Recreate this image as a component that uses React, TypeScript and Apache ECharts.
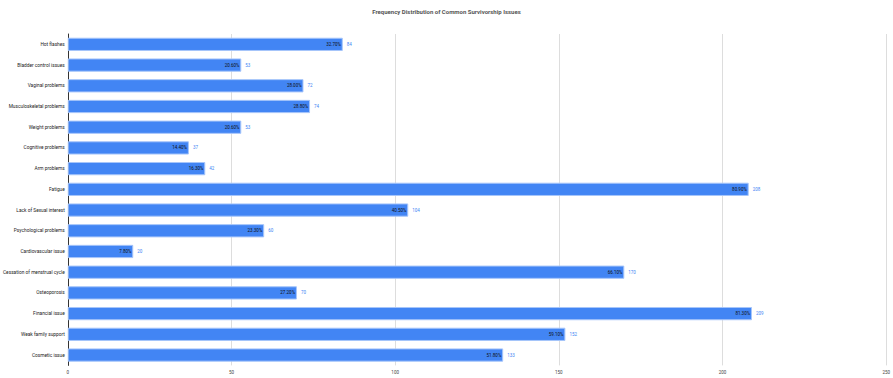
import React, { useEffect, useRef } from "react";
import * as echarts from "echarts";

const categories = [
  "Hot flashes",
  "Bladder control issues",
  "Vaginal problems",
  "Musculoskeletal problems",
  "Weight problems",
  "Cognitive problems",
  "Arm problems",
  "Fatigue",
  "Lack of Sexual interest",
  "Psychological problems",
  "Cardiovascular issue",
  "Cessation of menstrual cycle",
  "Osteoporosis",
  "Financial issue",
  "Weak family support",
  "Cosmetic issue",
];
const counts = [84, 53, 72, 74, 53, 37, 42, 208, 104, 60, 20, 170, 70, 209, 152, 133];
const percents = ["32.70%", "20.60%", "28.00%", "28.80%", "20.60%", "14.40%", "16.30%", "80.90%", "40.50%", "23.30%", "7.80%", "66.10%", "27.20%", "81.30%", "59.10%", "51.80%"];
const xTicks = { min: 0, max: 250, interval: 50 };

export default function App() {
  const ref = useRef<HTMLDivElement>(null);
  useEffect(() => {
    const chart = echarts.init(ref.current!, null, { renderer: "svg" });
    chart.setOption({
      animation: false,
      title: {
        text: "Frequency Distribution of Common Survivorship Issues",
        left: "center",
        top: 3,
        textStyle: { fontSize: 6, fontWeight: "bold", color: "#555", fontFamily: "Roboto, Arial, sans-serif" },
      },
      grid: { left: 64.5, right: 1.5, top: 34, bottom: 12.6, containLabel: false },
      xAxis: {
        type: "value",
        min: xTicks.min,
        max: xTicks.max,
        interval: xTicks.interval,
        axisLine: { show: false },
        axisTick: { show: false },
        splitLine: { lineStyle: { color: "#dddddd", width: 1 } },
        axisLabel: { fontSize: 4.5, color: "#444", margin: 5, fontFamily: "Roboto, Arial, sans-serif" },
      },
      yAxis: {
        type: "category",
        data: categories,
        inverse: true,
        axisLine: { show: true, lineStyle: { color: "#333", width: 1 } },
        axisTick: { show: false },
        axisLabel: { fontSize: 4.8, color: "#222", margin: 3, fontFamily: "Roboto, Arial, sans-serif" },
      },
      series: [
        {
          type: "bar",
          data: counts,
          barWidth: "64%",
          itemStyle: { color: "#4285F4", borderColor: "#a6c5fa", borderWidth: 1 },
          label: {
            show: true,
            position: "insideRight",
            distance: 2,
            formatter: (p: any) => percents[p.dataIndex],
            fontSize: 4.5,
            color: "#111",
            fontFamily: "Roboto, Arial, sans-serif",
          },
          z: 2,
        },
        {
          type: "bar",
          data: counts,
          barWidth: "64%",
          barGap: "-100%",
          itemStyle: { color: "transparent" },
          label: {
            show: true,
            position: "right",
            distance: 4,
            fontSize: 4.5,
            color: "#4285F4",
            fontFamily: "Roboto, Arial, sans-serif",
          },
          silent: true,
          z: 1,
        },
      ],
    });
    return () => chart.dispose();
  }, []);
  return <div ref={ref} style={{ width: 893, height: 378, position: "absolute", left: 0, top: 0 }} />;
}
